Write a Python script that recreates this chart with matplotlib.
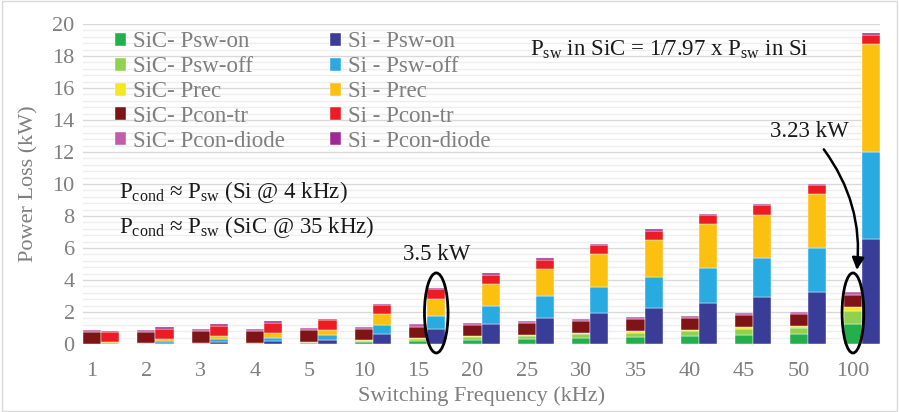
import matplotlib
matplotlib.use("Agg")
import matplotlib.pyplot as plt
import numpy as np
from matplotlib.patches import Ellipse, FancyArrowPatch, Rectangle
from matplotlib.ticker import MultipleLocator

plt.rcParams['font.family'] = ['Liberation Serif', 'DejaVu Serif']
plt.rcParams['mathtext.fontset'] = 'custom'
plt.rcParams['mathtext.rm'] = 'Liberation Serif'
plt.rcParams['mathtext.it'] = 'Liberation Serif:italic'

# switching frequencies (kHz)
freqs = ['1', '2', '3', '4', '5', '10', '15', '20', '25', '30', '35', '40', '45', '50', '100']

# SiC losses (kW)
sic_psw_on   = [0.01, 0.02, 0.04, 0.05, 0.06, 0.12, 0.19, 0.25, 0.31, 0.38, 0.44, 0.49, 0.55, 0.60, 1.25]
sic_psw_off  = [0.01, 0.02, 0.03, 0.03, 0.04, 0.08, 0.12, 0.17, 0.21, 0.25, 0.27, 0.31, 0.38, 0.42, 0.79]
sic_prec     = [0.00, 0.01, 0.01, 0.01, 0.01, 0.04, 0.04, 0.05, 0.06, 0.07, 0.09, 0.10, 0.12, 0.12, 0.25]
sic_pcon_tr  = [0.72, 0.73, 0.74, 0.74, 0.75, 0.71, 0.73, 0.74, 0.76, 0.75, 0.74, 0.73, 0.75, 0.74, 0.77]
sic_pcon_dio = [0.12, 0.12, 0.12, 0.12, 0.12, 0.13, 0.14, 0.12, 0.11, 0.11, 0.12, 0.14, 0.12, 0.13, 0.17]

# Si losses (kW)
si_psw_on   = [0.03, 0.08, 0.12, 0.19, 0.25, 0.62, 0.94, 1.27, 1.65, 1.96, 2.23, 2.58, 2.92, 3.23, 6.56]
si_psw_off  = [0.03, 0.10, 0.17, 0.21, 0.29, 0.56, 0.83, 1.10, 1.35, 1.62, 1.94, 2.19, 2.44, 2.75, 5.46]
si_prec     = [0.08, 0.12, 0.23, 0.29, 0.35, 0.67, 1.02, 1.37, 1.69, 2.04, 2.35, 2.70, 2.70, 3.37, 6.71]
si_pcon_tr  = [0.60, 0.64, 0.62, 0.62, 0.60, 0.58, 0.62, 0.58, 0.56, 0.56, 0.56, 0.56, 0.60, 0.56, 0.58]
si_pcon_dio = [0.10, 0.10, 0.10, 0.10, 0.10, 0.10, 0.10, 0.10, 0.10, 0.10, 0.10, 0.10, 0.10, 0.10, 0.10]

sic_series = [sic_psw_on, sic_psw_off, sic_prec, sic_pcon_tr, sic_pcon_dio]
si_series = [si_psw_on, si_psw_off, si_prec, si_pcon_tr, si_pcon_dio]
sic_labels = ['SiC- Psw-on', 'SiC- Psw-off', 'SiC- Prec', 'SiC- Pcon-tr', 'SiC- Pcon-diode']
si_labels = ['Si - Psw-on', 'Si - Psw-off', 'Si - Prec', 'Si - Pcon-tr', 'Si - Pcon-diode']
sic_colors = ['#21b04b', '#92d050', '#f2e81e', '#7f1416', '#c05ca8']
si_colors = ['#3a3d98', '#29abe2', '#fcc010', '#ed1c24', '#9e2a91']

gray = '#7f7f7f'

fig = plt.figure(figsize=(8.99, 4.12), dpi=100)
ax = fig.add_axes([0.0923, 0.165, 0.8867, 0.777])

# each frequency takes 3 slots: SiC bar, Si bar, gap
idx = np.arange(len(freqs))
x_sic = idx * 3
x_si = idx * 3 + 1

handles = []
bottom = np.zeros(len(freqs))
for vals, col, lab in zip(sic_series, sic_colors, sic_labels):
    b = ax.bar(x_sic, vals, bottom=bottom, width=1.0, color=col,
               edgecolor='white', linewidth=0.3, label=lab, zorder=3)
    handles.append(b)
    bottom += np.array(vals)

bottom = np.zeros(len(freqs))
for vals, col, lab in zip(si_series, si_colors, si_labels):
    b = ax.bar(x_si, vals, bottom=bottom, width=1.0, color=col,
               edgecolor='white', linewidth=0.3, label=lab, zorder=3)
    handles.append(b)
    bottom += np.array(vals)

ax.set_xlim(-0.5, x_si[-1] + 0.5)
ax.set_ylim(0, 20)
ax.set_xticks(x_sic)
ax.set_xticklabels(freqs)
ax.yaxis.set_major_locator(MultipleLocator(2))
ax.yaxis.set_minor_locator(MultipleLocator(0.4))
ax.grid(True, which='major', axis='y', color='#d9d9d9', linewidth=1.0, zorder=0)
ax.grid(True, which='minor', axis='y', color='#eeeeee', linewidth=1.0, zorder=0)
for s in ax.spines.values():
    s.set_visible(False)
ax.tick_params(axis='both', which='both', length=0, labelsize=16, colors=gray)
ax.tick_params(axis='x', pad=13)
ax.tick_params(axis='y', pad=6)

ax.set_xlabel('Switching Frequency (kHz)', fontsize=16, color=gray, labelpad=4)
ax.set_ylabel('Power Loss (kW)', fontsize=16, color=gray, labelpad=10)

leg = ax.legend(handles=handles, ncol=2, loc='upper left', bbox_to_anchor=(0.024, 1.016),
                frameon=False, fontsize=16.5, handlelength=0.5, handleheight=0.5,
                handletextpad=0.3, labelspacing=0.17, columnspacing=1.95, borderaxespad=0.15)
for t in leg.get_texts():
    t.set_color(gray)

txt = '#1a1a1a'
ax.text(24.2, 18.4, r'P$_{\rm sw}$ in SiC = 1/7.97 x P$_{\rm sw}$ in Si', fontsize=16.5,
        color=txt, va='center')
ax.text(1.5, 9.5, r'P$_{\rm cond}$ ≈ P$_{\rm sw}$ (Si @ 4 kHz)', fontsize=16.5,
        color=txt, va='center')
ax.text(1.5, 7.3, r'P$_{\rm cond}$ ≈ P$_{\rm sw}$ (SiC @ 35 kHz)', fontsize=16.5,
        color=txt, va='center')
ax.text(19.0, 5.6, '3.5 kW', fontsize=16.5, color=txt, ha='center', va='center')
ax.text(39.6, 13.3, '3.23 kW', fontsize=16.5, color=txt, ha='center', va='center')

ax.add_patch(Ellipse((19.0, 1.94), 1.3, 5.0, fill=False, edgecolor='black',
                     linewidth=2.0, zorder=5, clip_on=False))
ax.add_patch(Ellipse((42.0, 1.94), 1.2, 5.0, fill=False, edgecolor='black',
                     linewidth=2.0, zorder=5, clip_on=False))
ax.add_patch(FancyArrowPatch((40.3, 12.3), (42.2, 4.45), arrowstyle='-|>',
                             mutation_scale=18, connectionstyle='arc3,rad=-0.2',
                             color='black', linewidth=1.8, zorder=5))

fig.add_artist(Rectangle((0.002, 0.003), 0.996, 0.994, transform=fig.transFigure,
                         fill=False, edgecolor='#d9d9d9', linewidth=1.0))

plt.savefig('out.png', dpi=100)
